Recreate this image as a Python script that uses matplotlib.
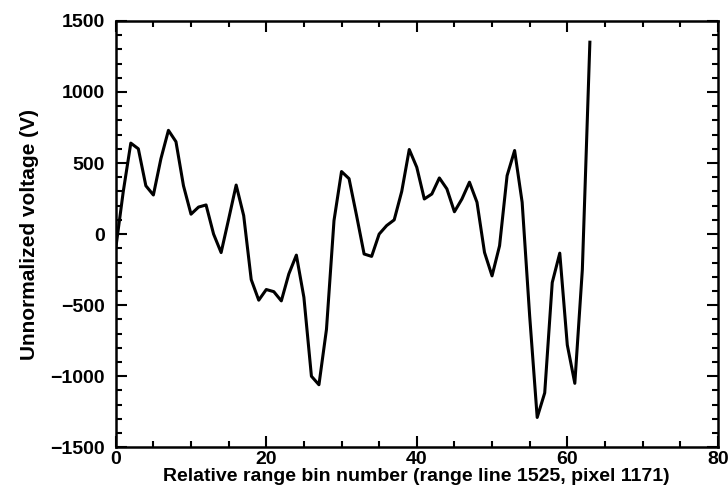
import matplotlib
matplotlib.use('Agg')
import matplotlib.pyplot as plt
from matplotlib.ticker import MultipleLocator

plt.rcParams['font.family'] = ['Liberation Sans', 'DejaVu Sans']
plt.rcParams['font.weight'] = 'bold'

# relative range bin and voltage
bins = list(range(64))
voltage = [-100, 300, 640, 600, 340, 275, 530, 730, 650, 340,
           140, 190, 205, 0, -130, 105, 345, 130, -320, -465,
           -390, -405, -470, -280, -148, -445, -1000, -1060, -670, 95,
           440, 390, 130, -140, -157, 0, 60, 100, 300, 595,
           470, 247, 282, 395, 318, 157, 247, 365, 224, -129,
           -294, -82, 411, 588, 224, -576, -1290, -1117, -341, -134,
           -780, -1050, -250, 1350]

fig = plt.figure(figsize=(7.28, 4.97), dpi=100)
ax = fig.add_axes([0.159, 0.100, 0.827, 0.858])

ax.plot(bins, voltage, color='black', lw=2.2)

ax.set_xlim(0, 80)
ax.set_ylim(-1500, 1500)
ax.xaxis.set_major_locator(MultipleLocator(20))
ax.xaxis.set_minor_locator(MultipleLocator(5))
ax.yaxis.set_major_locator(MultipleLocator(500))
ax.yaxis.set_minor_locator(MultipleLocator(100))
ax.tick_params(which='both', direction='in', top=True, right=True, width=1.5,
               labelsize=14)
ax.tick_params(axis='y', pad=8)
ax.tick_params(axis='x', pad=3)
ax.tick_params(which='major', length=8)
ax.tick_params(which='minor', length=4)
for s in ax.spines.values():
    s.set_linewidth(1.8)

ax.set_xlabel('Relative range bin number (range line 1525, pixel 1171)',
              fontsize=14, fontweight='bold', labelpad=0)
ax.set_ylabel('Unnormalized voltage (V)', fontsize=15, fontweight='bold',
              labelpad=8)

fig.savefig('out.png', dpi=100)
